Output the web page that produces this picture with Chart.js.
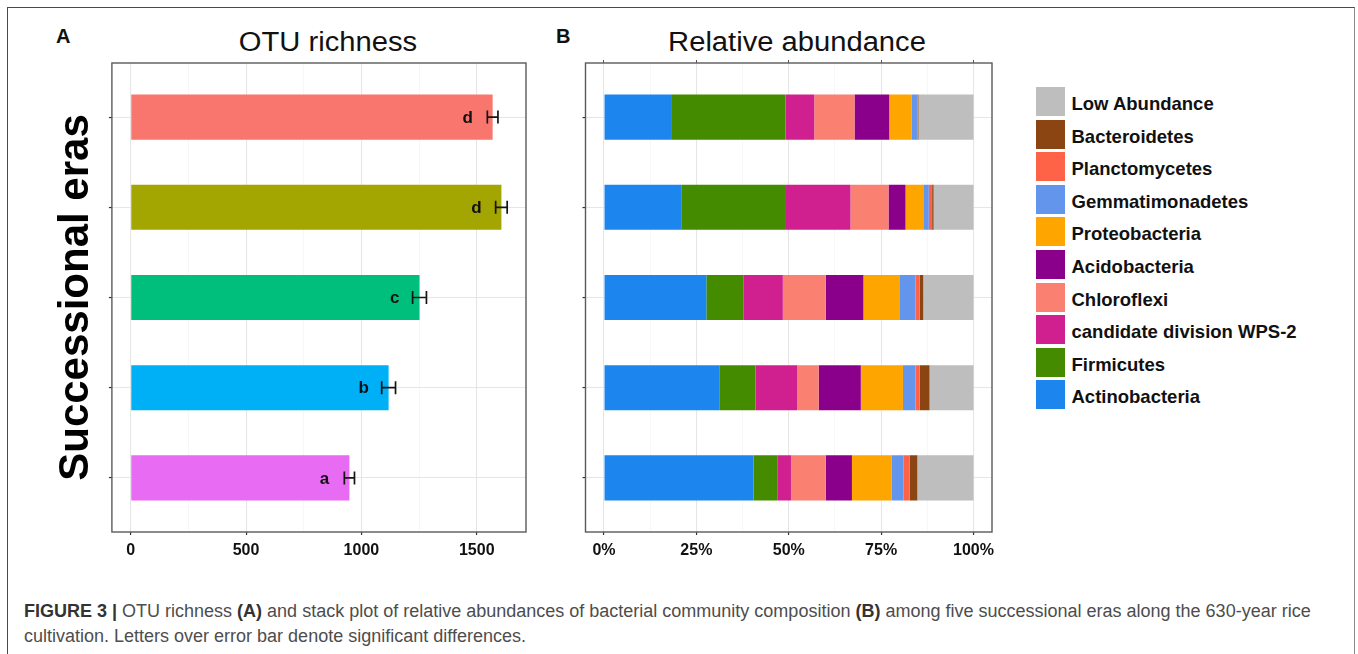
<!DOCTYPE html>
<html>
<head>
<meta charset="utf-8">
<title>OTU richness and relative abundance</title>
<script src="https://cdn.jsdelivr.net/npm/chart.js@4.4.1/dist/chart.umd.min.js"></script>
<style>
  html, body { margin: 0; padding: 0; background: #fff; }
  body { width: 1358px; height: 654px; position: relative; overflow: hidden;
         font-family: "Liberation Sans", Arial, sans-serif; }
  .frame { position: absolute; left: 7px; top: 7px; width: 1348px; height: 720px;
           border: 1.5px solid #4a4a4a; border-right-color: #8a8a8a; box-sizing: border-box; }
  .tag { position: absolute; font-weight: bold; font-size: 20px; line-height: 20px; color: #111; }
  .ptitle { position: absolute; font-size: 27px; line-height: 27px; color: #111;
            white-space: nowrap; transform: translateX(-50%) scaleX(1.08); transform-origin: 50% 50%; }
  #wrapA { position: absolute; left: 0; top: 0; width: 540px; height: 580px; }
  #wrapB { position: absolute; left: 545px; top: 0; width: 470px; height: 580px; }
  #legend { position: absolute; left: 1036px; top: 87px; }
  .li { display: flex; align-items: center; height: 29px; margin-bottom: 3.6px; }
  .sw { width: 29px; height: 29px; flex: none; }
  .lt { margin-left: 6.5px; padding-top: 5px; font-weight: bold; font-size: 18.5px; color: #111; white-space: nowrap; }
  .caption { position: absolute; left: 24px; top: 599px; font-size: 18px; line-height: 25px;
             color: #4d4d4d; white-space: nowrap; }
  .caption b { color: #333; }
</style>
</head>
<body>
<div class="frame"></div>
<div class="tag" style="left:56px;top:26px;">A</div>
<div class="tag" style="left:556px;top:26px;">B</div>
<div class="ptitle" style="left:328px;top:28.6px;">OTU richness</div>
<div class="ptitle" style="left:797px;top:28.6px;">Relative abundance</div>
<div id="wrapA"><canvas id="chartA"></canvas></div>
<div id="wrapB"><canvas id="chartB"></canvas></div>
<div id="legend"></div>
<div class="caption">
  <b>FIGURE 3 |</b> OTU richness <b>(A)</b> and stack plot of relative abundances of bacterial community composition <b>(B)</b> among five successional eras along the 630-year rice<br>
  cultivation. Letters over error bar denote significant differences.
</div>

<script>
// ---- data -------------------------------------------------------------
const eras = ['Era I', 'Era II', 'Era III', 'Era IV', 'Era V'];
const eraColors = ['#F8766D', '#A3A500', '#00BF7D', '#00B0F6', '#E76BF3'];

// OTU richness (mean, error) and significance letters per era
const richness = [1569, 1607, 1252, 1118, 948];
const richnessErr = [23, 25, 30, 30, 22];
const richnessGroup = ['d', 'd', 'c', 'b', 'a'];
const richnessTicks = [0, 500, 1000, 1500];

// relative abundance (%) of each phylum per era
const actinobacteria   = [18.4, 20.9, 27.7, 31.2, 40.5];
const firmicutes       = [30.7, 28.1, 10.0,  9.8,  6.4];
const wps2             = [ 7.8, 17.7, 10.7, 11.3,  3.7];
const chloroflexi      = [10.9, 10.3, 11.6,  5.8,  9.4];
const acidobacteria    = [ 9.4,  4.6, 10.2, 11.4,  7.1];
const proteobacteria   = [ 6.0,  4.8,  9.9, 11.4, 10.8];
const gemmatimonadetes = [ 1.5,  1.5,  4.2,  3.4,  3.2];
const planctomycetes   = [ 0.2,  0.9,  1.1,  1.1,  1.6];
const bacteroidetes    = [ 0.2,  0.4,  1.0,  2.7,  2.1];
const lowAbundance     = [14.9, 10.8, 13.6, 11.9, 15.2];
const pctTicks = [0, 25, 50, 75, 100];

const phyla = [
  ['Actinobacteria', actinobacteria, '#1C86EE'],
  ['Firmicutes', firmicutes, '#458B00'],
  ['candidate division WPS-2', wps2, '#D02090'],
  ['Chloroflexi', chloroflexi, '#FA8072'],
  ['Acidobacteria', acidobacteria, '#8B008B'],
  ['Proteobacteria', proteobacteria, '#FFA500'],
  ['Gemmatimonadetes', gemmatimonadetes, '#6495ED'],
  ['Planctomycetes', planctomycetes, '#FF6347'],
  ['Bacteroidetes', bacteroidetes, '#8B4513'],
  ['Low Abundance', lowAbundance, '#BEBEBE']
];

// ---- shared styling -----------------------------------------------------
const FAMILY = '"Liberation Sans", Arial, sans-serif';
Chart.defaults.font.family = FAMILY;
Chart.defaults.animation = false;

const GRID_MAJOR = '#e6e6e6';
const GRID_MINOR = '#f3f3f3';
const TICK_COLOR = '#333';

// major ticks plus the minor positions halfway between them
function withMinor(major) {
  const out = [];
  major.forEach((v, i) => {
    out.push({ value: v });
    if (i < major.length - 1) out.push({ value: (v + major[i + 1]) / 2 });
  });
  return out;
}
const isMajor = (list, v) => list.includes(v);

// era index axis shared by both panels (0.6 expansion on each side)
function eraAxis(extra) {
  return Object.assign({
    type: 'linear',
    reverse: true,
    offset: false,
    min: -0.6,
    max: eras.length - 0.4,
    stacked: true,
    afterBuildTicks: s => { s.ticks = eras.map((_, i) => ({ value: i })); },
    grid: { offset: false, color: GRID_MAJOR, lineWidth: 1.1, tickColor: TICK_COLOR, tickLength: 3, tickWidth: 1.2 },
    border: { display: false },
    ticks: { display: false }
  }, extra);
}

const panelBorder = {
  id: 'panelBorder',
  afterDatasetsDraw(chart) {
    const { ctx, chartArea: a } = chart;
    ctx.save();
    ctx.strokeStyle = '#5a5a5a';
    ctx.lineWidth = 1.4;
    ctx.strokeRect(a.left, a.top, a.right - a.left, a.bottom - a.top);
    ctx.restore();
  }
};

// horizontal error bars and group letters on the richness bars
const errorBars = {
  id: 'errorBars',
  afterDatasetsDraw(chart) {
    const { ctx, scales: { x, y } } = chart;
    ctx.save();
    ctx.strokeStyle = '#151515';
    ctx.lineWidth = 1.7;
    ctx.fillStyle = '#111';
    ctx.font = 'bold 17px ' + FAMILY;
    ctx.textAlign = 'center';
    ctx.textBaseline = 'middle';
    richness.forEach((v, i) => {
      const yc = y.getPixelForValue(i);
      const x0 = x.getPixelForValue(v - richnessErr[i]);
      const x1 = x.getPixelForValue(v + richnessErr[i]);
      const h = 6.5;
      ctx.beginPath();
      ctx.moveTo(x0, yc); ctx.lineTo(x1, yc);
      ctx.moveTo(x0, yc - h); ctx.lineTo(x0, yc + h);
      ctx.moveTo(x1, yc - h); ctx.lineTo(x1, yc + h);
      ctx.stroke();
      ctx.fillText(richnessGroup[i], x.getPixelForValue(v - 108), yc + 1);
    });
    ctx.restore();
  }
};

const tickFont = { family: FAMILY, size: 16, weight: 'bold' };

// ---- panel A: OTU richness ---------------------------------------------
const richTop = Math.max(...richness.map((v, i) => v + richnessErr[i]));
const richPad = richTop * 0.05;

new Chart(document.getElementById('chartA'), {
  type: 'bar',
  data: {
    datasets: [{
      data: richness.map((v, i) => ({ x: v, y: i })),
      backgroundColor: eraColors,
      borderWidth: 0,
      barPercentage: 0.5,
      categoryPercentage: 1
    }]
  },
  options: {
    indexAxis: 'y',
    responsive: true,
    maintainAspectRatio: false,
    layout: { padding: { left: 47, top: 63, right: 14, bottom: 13.8 } },
    plugins: { legend: { display: false }, tooltip: { enabled: false } },
    scales: {
      x: {
        type: 'linear',
        min: -richPad,
        max: richTop + richPad,
        afterBuildTicks: s => { s.ticks = withMinor(richnessTicks); },
        grid: {
          color: c => isMajor(richnessTicks, c.tick.value) ? GRID_MAJOR : GRID_MINOR,
          lineWidth: c => isMajor(richnessTicks, c.tick.value) ? 1.1 : 0.7,
          tickColor: c => isMajor(richnessTicks, c.tick.value) ? TICK_COLOR : 'rgba(0,0,0,0)',
          tickLength: 3,
          tickWidth: 1.2
        },
        border: { display: false },
        ticks: {
          autoSkip: false, maxRotation: 0, padding: 6,
          color: '#111', font: tickFont,
          callback: v => isMajor(richnessTicks, v) ? String(v) : ''
        }
      },
      y: eraAxis({
        stacked: false,
        title: {
          display: true, text: 'Successional eras', color: '#000',
          font: { family: FAMILY, size: 42, weight: 'bold' },
          padding: { top: 4, bottom: 7.5 }
        }
      })
    }
  },
  plugins: [errorBars, panelBorder]
});

// ---- panel B: relative abundance ---------------------------------------
const chartB = new Chart(document.getElementById('chartB'), {
  type: 'bar',
  data: {
    datasets: phyla.map(([name, values, color]) => ({
      label: name,
      data: values.map((v, i) => ({ x: v, y: i })),
      backgroundColor: color,
      borderWidth: 0,
      barPercentage: 0.5,
      categoryPercentage: 1
    }))
  },
  options: {
    indexAxis: 'y',
    responsive: true,
    maintainAspectRatio: false,
    layout: { padding: { left: 37.5, top: 60, right: 23, bottom: 13.8 } },
    plugins: { legend: { display: false }, tooltip: { enabled: false } },
    scales: {
      x: {
        type: 'linear',
        stacked: true,
        min: -5,
        max: 105,
        afterBuildTicks: s => { s.ticks = withMinor(pctTicks); },
        grid: {
          color: c => isMajor(pctTicks, c.tick.value) ? GRID_MAJOR : GRID_MINOR,
          lineWidth: c => isMajor(pctTicks, c.tick.value) ? 1.1 : 0.7,
          tickColor: c => isMajor(pctTicks, c.tick.value) ? TICK_COLOR : 'rgba(0,0,0,0)',
          tickLength: 3,
          tickWidth: 1.2
        },
        border: { display: false },
        ticks: {
          autoSkip: false, maxRotation: 0, padding: 6,
          color: '#111', font: tickFont,
          callback: v => isMajor(pctTicks, v) ? v + '%' : ''
        }
      },
      xTop: {
        type: 'linear',
        position: 'top',
        min: -5,
        max: 105,
        afterBuildTicks: s => { s.ticks = pctTicks.map(v => ({ value: v })); },
        grid: { drawOnChartArea: false, tickColor: '#555', tickLength: 3, tickWidth: 1 },
        border: { display: false },
        ticks: { display: false }
      },
      y: eraAxis({})
    }
  },
  plugins: [panelBorder]
});

// ---- legend for panel B (top item = last stacked segment) ---------------
const legendEl = document.getElementById('legend');
chartB.data.datasets.slice().reverse().forEach(ds => {
  const row = document.createElement('div');
  row.className = 'li';
  const sw = document.createElement('div');
  sw.className = 'sw';
  sw.style.background = ds.backgroundColor;
  const lt = document.createElement('div');
  lt.className = 'lt';
  lt.textContent = ds.label;
  row.appendChild(sw);
  row.appendChild(lt);
  legendEl.appendChild(row);
});
</script>
</body>
</html>
